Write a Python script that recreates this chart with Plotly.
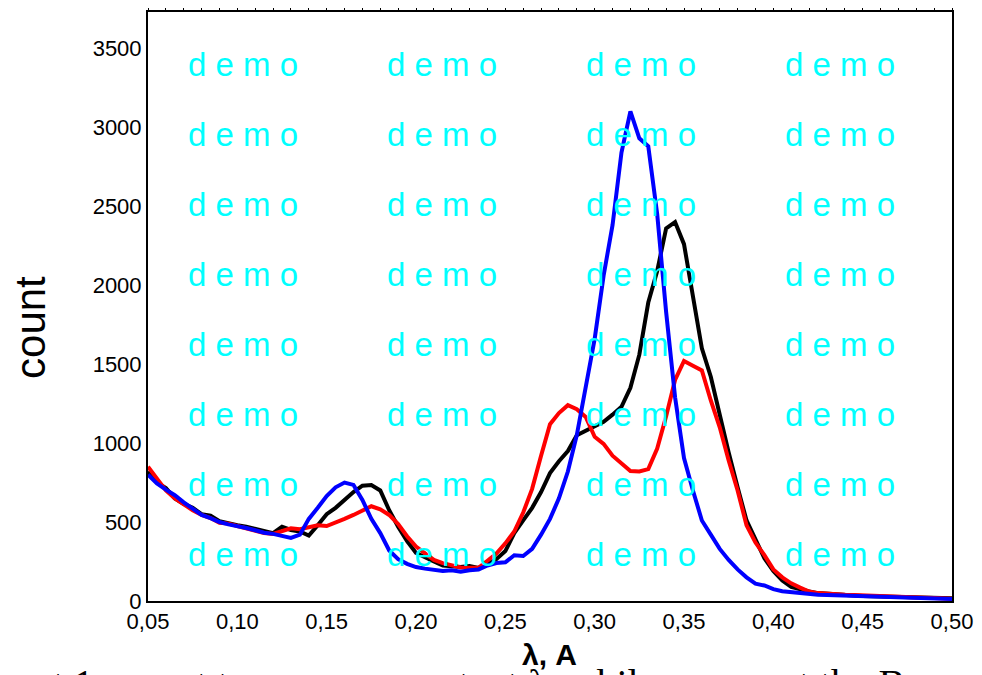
import plotly.graph_objects as go

# ---- data ----
wavelength = [round(0.05 + 0.005 * i, 3) for i in range(91)]

count_black = [
    820, 750, 715, 650, 615, 590, 550, 540, 505, 490,
    480, 470, 455, 445, 430, 470, 450, 440, 415, 480,
    550, 590, 640, 690, 730, 735, 700, 575, 470, 380,
    305, 275, 250, 225, 220, 215, 222, 210, 235, 265,
    316, 430, 510, 590, 690, 810, 885, 950, 1050, 1080,
    1110, 1135, 1180, 1230, 1350, 1560, 1890, 2090, 2360, 2400,
    2260, 1920, 1600, 1420, 1170, 940, 720, 510, 390, 270,
    190, 130, 90, 72, 60, 50, 45, 42, 38, 35,
    32, 30, 28, 26, 25, 23, 22, 21, 20, 19,
    18,
]

count_red = [
    850, 770, 700, 650, 610, 575, 545, 525, 495, 490,
    475, 460, 445, 430, 425, 445, 460, 455, 470, 480,
    475, 495, 520, 545, 570, 600, 580, 545, 487, 410,
    345, 300, 260, 240, 225, 212, 210, 210, 255, 300,
    365, 440, 560, 710, 920, 1120, 1190, 1240, 1215, 1165,
    1040, 995, 920, 875, 823, 820, 835, 965, 1170, 1400,
    1520, 1490, 1460, 1270, 1100, 890, 700, 480, 370, 290,
    200, 150, 112, 85, 60, 50, 45, 42, 40, 38,
    35, 33, 30, 28, 26, 24, 22, 20, 19, 17,
    15,
]

count_blue = [
    800, 745, 705, 670, 625, 585, 545, 525, 500, 485,
    475, 462, 448, 432, 425, 415, 400, 420, 520, 590,
    665, 720, 750, 735, 640, 520, 430, 320, 265, 235,
    215, 205, 195, 190, 195, 185, 195, 200, 225, 240,
    245, 290, 285, 330, 420, 520, 650, 820, 1050, 1340,
    1660, 2060, 2380, 2840, 3100, 2930, 2880, 2450, 1830, 1290,
    905, 700, 510, 420, 330, 260, 200, 150, 110, 98,
    75, 62, 55, 48, 44, 40, 38, 36, 34, 33,
    32, 30, 28, 26, 24, 22, 20, 19, 17, 15,
    13,
]

x_tick_vals = [0.05, 0.10, 0.15, 0.20, 0.25, 0.30, 0.35, 0.40, 0.45, 0.50]
x_tick_text = ["0,05", "0,10", "0,15", "0,20", "0,25", "0,30", "0,35", "0,40", "0,45", "0,50"]
y_tick_vals = [0, 500, 1000, 1500, 2000, 2500, 3000, 3500]
y_tick_text = ["0", "500", "1000", "1500", "2000", "2500", "3000", "3500"]
top_minor_ticks = [round(0.05 + 0.01 * i, 2) for i in range(46)]

# ---- layout geometry ----
W, H = 982, 675
L, R, T, B = 148, 26, 9, 74
PW, PH = W - L - R, H - T - B


def px(x):
    return (x - L) / PW


def py(y):
    return (H - B - y) / PH


fig = go.Figure()
for vals, col in [(count_black, "black"), (count_red, "#ff0000"), (count_blue, "#0000ff")]:
    fig.add_trace(go.Scatter(x=wavelength, y=vals, mode="lines",
                             line=dict(color=col, width=4), hoverinfo="skip"))

# invisible trace to carry the top minor-tick axis
fig.add_trace(go.Scatter(x=[0.05, 0.5], y=[0, 0], xaxis="x2", mode="lines",
                         line=dict(width=0), showlegend=False, hoverinfo="skip"))

tick_font = dict(family="Liberation Sans, Arial", size=22, color="black")

fig.update_layout(
    width=W, height=H,
    margin=dict(l=L, r=R, t=T, b=B),
    paper_bgcolor="white", plot_bgcolor="white",
    showlegend=False,
    xaxis=dict(range=[0.05, 0.50], tickvals=x_tick_vals, ticktext=x_tick_text,
               showgrid=False, zeroline=False, showline=True, linecolor="black",
               linewidth=2, mirror=True, ticks="", tickfont=tick_font),
    xaxis2=dict(range=[0.05, 0.50], overlaying="x", side="top", tickvals=top_minor_ticks,
                showticklabels=False, ticks="outside", ticklen=3, tickwidth=1,
                tickcolor="black", showgrid=False, zeroline=False, showline=False),
    yaxis=dict(range=[0, 3730], tickvals=y_tick_vals, ticktext=y_tick_text,
               showgrid=False, zeroline=False, showline=True, linecolor="black",
               linewidth=2, mirror=True, ticks="", tickfont=tick_font),
)

annotations = []
# watermark grid
for j in range(4):
    for i in range(8):
        cx = 243 + 200 * j
        cy = 62 + 70.3 * i
        annotations.append(dict(text="d e m o", x=px(cx), y=py(cy), xref="paper", yref="paper",
                                xanchor="center", yanchor="middle", showarrow=False,
                                font=dict(family="Liberation Sans, Arial", size=33, color="#00ffff")))

annotations.append(dict(text="count", x=px(30), y=py(326), xref="paper", yref="paper",
                        xanchor="center", yanchor="middle", textangle=-90, showarrow=False,
                        font=dict(family="Liberation Sans, Arial", size=42, color="black")))
annotations.append(dict(text="<b>λ, A</b>", x=px(551), y=py(655), xref="paper", yref="paper",
                        xanchor="center", yanchor="middle", showarrow=False,
                        font=dict(family="Liberation Sans, Arial", size=30, color="black")))
annotations.append(dict(text="ent 1 are set to cover a constant λ, while curves at the Bragg",
                        x=px(12), y=py(659), xref="paper", yref="paper",
                        xanchor="left", yanchor="top", showarrow=False,
                        font=dict(family="Liberation Serif, Times New Roman", size=40, color="black")))
fig.update_layout(annotations=annotations)

fig.write_html("out.html")
